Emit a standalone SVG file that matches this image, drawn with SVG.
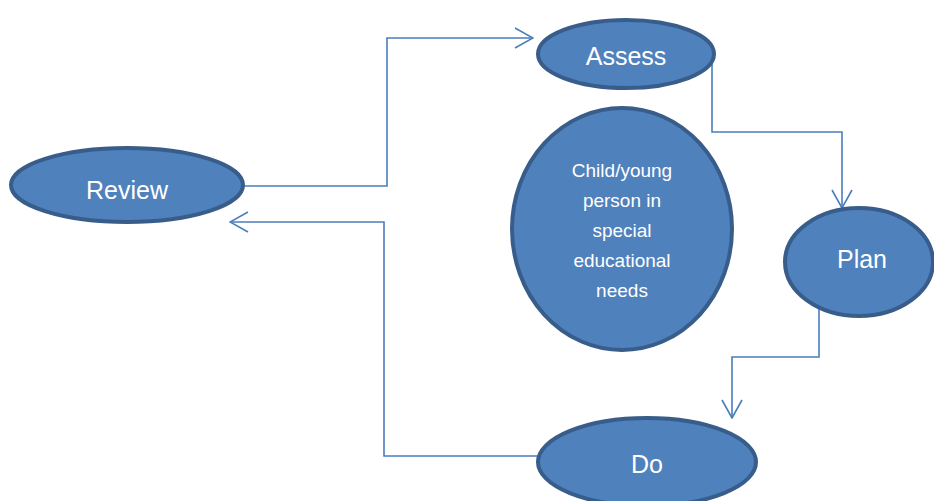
<svg xmlns="http://www.w3.org/2000/svg" width="934" height="501" viewBox="0 0 934 501">
<style>
.node{fill:#4F81BD;stroke:#385D8A;stroke-width:4}
.lbl{fill:#FFFFFF;font-family:"Liberation Sans",Arial,sans-serif;text-anchor:middle}
.big{font-size:25px}
.small{font-size:19px}
.conn{fill:none;stroke:#4A7EBB;stroke-width:1.6}
</style>
<defs>
<marker id="arr" viewBox="0 0 20 22" refX="19" refY="11" markerWidth="20" markerHeight="22" markerUnits="userSpaceOnUse" orient="auto">
<path d="M1,1 L19,11 L1,21" fill="none" stroke="#4A7EBB" stroke-width="1.6"/>
</marker>
</defs>
<rect width="934" height="501" fill="#FFFFFF"/>
<g id="connectors">
<polyline class="conn" points="243,186 387,186 387,38 533,38" marker-end="url(#arr)"/>
<polyline class="conn" points="712,58 712,132 842,132 842,208" marker-end="url(#arr)"/>
<polyline class="conn" points="819,296 819,357 732,357 732,418" marker-end="url(#arr)"/>
<polyline class="conn" points="538,456 384,456 384,222 230,222" marker-end="url(#arr)"/>
</g>
<g id="review">
<ellipse class="node" cx="127" cy="185" rx="116" ry="37"/>
<text class="lbl big" x="127" y="199">Review</text>
</g>
<g id="assess">
<ellipse class="node" cx="626" cy="54" rx="88" ry="34"/>
<text class="lbl big" x="626" y="65">Assess</text>
</g>
<g id="child">
<ellipse class="node" cx="622" cy="229" rx="110" ry="121"/>
<text class="lbl small" x="622" y="177">Child/young</text>
<text class="lbl small" x="622" y="207">person in</text>
<text class="lbl small" x="622" y="237">special</text>
<text class="lbl small" x="622" y="267">educational</text>
<text class="lbl small" x="622" y="297">needs</text>
</g>
<g id="plan">
<ellipse class="node" cx="859" cy="262" rx="74" ry="54"/>
<text class="lbl big" x="862" y="268">Plan</text>
</g>
<g id="do">
<ellipse class="node" cx="647" cy="462" rx="109" ry="44"/>
<text class="lbl big" x="647" y="473">Do</text>
</g>
</svg>
